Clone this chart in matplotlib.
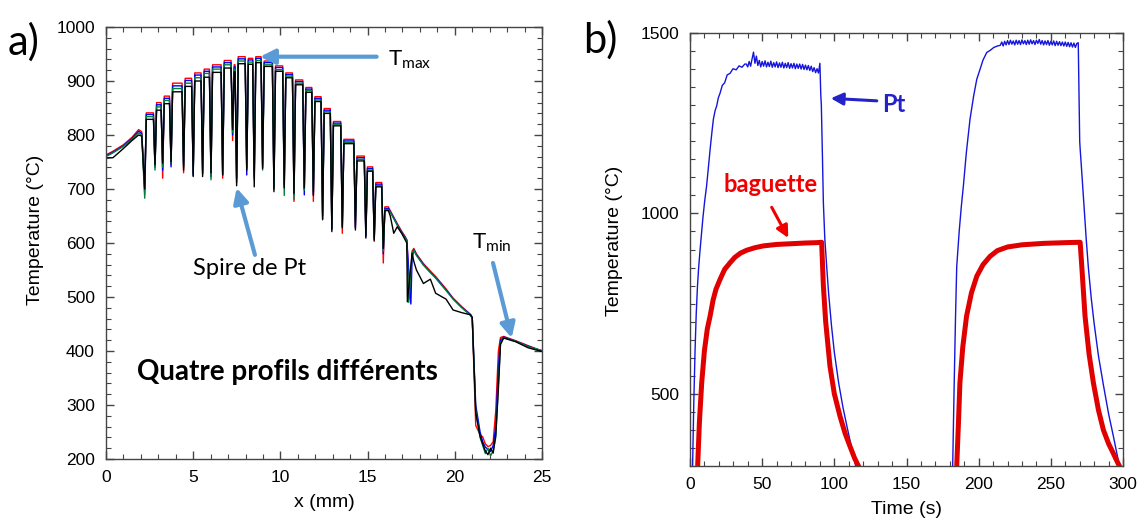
import matplotlib
matplotlib.use('Agg')
import matplotlib.pyplot as plt
import numpy as np
from matplotlib.ticker import MultipleLocator

plt.rcParams['font.family'] = ['Liberation Sans', 'DejaVu Sans']
plt.rcParams['mathtext.fontset'] = 'custom'
plt.rcParams['mathtext.rm'] = 'Lato'

# ---------------- a) four temperature profiles along the rod ----------------
lead_x = [0.0, 0.4, 1.0, 1.5, 1.87, 2.05]
lead_red = [763, 770, 782, 796, 810, 806]
lead_blue = [762, 768, 780, 794, 807, 803]
lead_green = [760, 767, 779, 792, 804, 800]
lead_black = [757, 758, 775, 790, 800, 798]

# positions of the Pt coil turns (dips) and the level reached after each one
dip_x = [2.22, 2.81, 3.25, 3.73, 4.45, 5.00, 5.54, 6.02, 6.69, 7.26, 7.49, 8.07, 8.50,
         8.98, 9.63, 10.22, 10.78, 11.37, 11.89, 12.42, 12.95, 13.55, 14.30, 14.90, 15.38, 15.90]
top_red = [841, 860, 872, 896, 905, 915, 922, 930, 938, 930, 945, 942, 945,
           937, 928, 915, 902, 888, 871, 849, 825, 792, 761, 741, 712, 667]
top_blue = [838, 856, 868, 891, 901, 911, 918, 926, 934, 926, 941, 939, 942,
            934, 925, 912, 899, 885, 868, 846, 822, 789, 758, 738, 709, 664]
top_green = [834, 852, 864, 886, 896, 906, 914, 922, 930, 922, 937, 935, 938,
             930, 921, 909, 896, 882, 865, 843, 819, 786, 755, 735, 706, 662]
top_black = [829, 846, 858, 880, 890, 900, 907, 916, 924, 917, 932, 931, 934,
             927, 918, 906, 893, 879, 862, 840, 817, 784, 752, 733, 704, 660]
dip_red = [690, 742, 720, 745, 730, 728, 730, 725, 720, 790, 720, 740, 722,
           740, 700, 705, 677, 700, 677, 650, 628, 618, 630, 615, 603, 563]
dip_blue = [700, 740, 735, 741, 744, 725, 728, 722, 725, 800, 712, 726, 725,
            745, 705, 708, 690, 689, 690, 645, 625, 630, 628, 612, 610, 580]
dip_green = [683, 735, 740, 748, 740, 730, 735, 717, 728, 805, 718, 738, 718,
             735, 700, 688, 681, 698, 695, 655, 630, 635, 640, 620, 608, 585]
dip_black = [700, 745, 748, 750, 735, 723, 723, 730, 727, 810, 706, 735, 704,
             738, 695, 702, 692, 702, 688, 643, 621, 628, 624, 609, 605, 590]

tailA_x = [16.19, 16.3, 16.5, 16.7, 16.95, 17.15, 17.25]
tailA_red = [667, 660, 648, 636, 622, 612, 606]
tailA_blue = [664, 658, 646, 634, 620, 611, 605]
tailA_green = [662, 657, 645, 633, 619, 610, 604]
tailA_black = [660, 650, 618, 630, 618, 606, 600]

# last deep dip (red, blue, green, black)
big_x = [17.42, 17.48, 17.36, 17.28]
big_T = [497, 487, 490, 491]

tailB_x = [17.55, 17.65, 17.8, 18.2, 18.6, 18.9, 19.5, 19.9, 20.4, 20.9, 21.0, 21.2, 21.45,
           21.6, 21.75, 21.9, 22.05, 22.2, 22.35, 22.5, 22.62, 22.8, 23.5, 24.2, 25.0]
tailB_red = [585, 590, 580, 562, 548, 538, 515, 498, 482, 468, 462, 262, 245,
             241, 228, 223, 225, 232, 290, 400, 425, 427, 419, 410, 400]
tailB_blue = [570, 588, 578, 560, 546, 536, 513, 497, 481, 467, 462, 300, 250,
              232, 222, 218, 214, 225, 260, 370, 420, 426, 418, 409, 400]
tailB_green = [580, 587, 577, 559, 545, 535, 512, 496, 480, 466, 460, 290, 240,
               225, 210, 220, 206, 215, 240, 340, 415, 425, 418, 408, 401]
tailB_black = [581, 566, 550, 525, 533, 507, 496, 476, 471, 467, 462, 285, 242,
               228, 215, 208, 220, 211, 245, 330, 412, 424, 417, 406, 399]

# ---------------- b) Pt wire and rod temperatures vs time ----------------
pt1_rise_t = [1.8, 2.6, 3.5, 4.3, 5.2, 6.0, 7.0, 8.0, 9.0, 10.2, 11.5, 12.8, 14.0, 15.1,
              16.2, 17.4, 18.5, 19.6, 20.8, 22.4, 24.0, 25.8, 27.7, 29.8, 32.0, 34.0, 36.0, 38.0]
pt1_rise_T = [300, 470, 620, 720, 800, 850, 900, 945, 990, 1035, 1076, 1130, 1180, 1222,
              1261, 1285, 1298, 1320, 1333, 1355, 1362, 1384, 1388, 1401, 1398, 1409, 1405, 1414]
pt1_flat_t = np.arange(39, 91)
pt1_flat_T = [1414, 1406, 1421, 1408, 1428, 1447, 1416, 1436, 1410, 1424, 1406, 1421, 1408,
              1423, 1406, 1419, 1407, 1422, 1405, 1418, 1406, 1420, 1404, 1417, 1405, 1419,
              1403, 1416, 1404, 1418, 1402, 1415, 1403, 1416, 1401, 1414, 1402, 1414, 1400,
              1413, 1399, 1411, 1398, 1410, 1396, 1408, 1393, 1404, 1390, 1401, 1389, 1416]
pt1_fall_t = [90.6, 91.0, 91.8, 92.4, 93.4, 94.7, 96.0, 98.0, 100.0, 103.0, 106.0, 109.0,
              112.0, 114.5, 115.5]
pt1_fall_T = [1330, 1300, 1150, 1030, 930, 853, 780, 690, 615, 530, 462, 405, 350, 305, 290]

pt2_rise_t = [182, 183, 184, 184.8, 186.5, 188, 189.4, 191.5, 194, 196.5, 198.7, 201, 203,
              205.6, 208, 210.5, 213]
pt2_rise_T = [300, 520, 720, 853, 950, 1020, 1076, 1170, 1261, 1325, 1372, 1400, 1425,
              1446, 1452, 1460, 1464]
pt2_flat_t = np.arange(215, 270)
pt2_flat_T = [1466, 1475, 1464, 1477, 1467, 1479, 1468, 1480, 1469, 1478, 1467, 1480, 1469,
              1479, 1468, 1481, 1470, 1479, 1468, 1480, 1469, 1481, 1470, 1479, 1468, 1480,
              1471, 1482, 1469, 1479, 1467, 1478, 1468, 1479, 1466, 1477, 1467, 1478, 1465,
              1477, 1466, 1476, 1465, 1475, 1464, 1475, 1463, 1474, 1462, 1473, 1461, 1472,
              1460, 1471, 1473]
pt2_fall_t = [270.0, 270.3, 271.5, 273.0, 274.5, 276, 278, 280, 283, 286.4, 290, 293.3,
              296, 297.5, 298.5]
pt2_fall_T = [1200, 1180, 1110, 1020, 930, 850, 765, 695, 605, 525, 445, 383, 330, 300, 285]

bg1_t = [5.3, 6.5, 8.1, 10, 12, 13.9, 16, 18, 20.8, 24, 27.7, 31, 35, 39.3, 45, 50.8, 60,
         70, 80, 88, 91.2, 92.4, 94, 97, 100, 104, 107.5, 110.9, 114, 116.7, 118]
bg1_T = [300, 420, 530, 620, 680, 715, 760, 790, 817, 845, 863, 878, 890, 898, 905, 910,
         914, 916, 918, 919, 920, 800, 700, 576, 500, 437, 390, 354, 322, 300, 290]
bg2_t = [184.8, 186, 187, 189, 191.6, 195, 198.7, 203, 207.9, 213, 220, 230, 245, 260,
         270.3, 271.5, 273.7, 276.5, 279.5, 283, 286.4, 290, 293.3, 296, 297.5, 298.5]
bg2_T = [300, 420, 530, 630, 715, 780, 826, 858, 881, 897, 907, 913, 917, 919, 920, 850,
         715, 610, 530, 455, 400, 362, 335, 312, 300, 292]

HW = 0.09  # half width of a dip on screen


def profile(lead_T, tops, dips, tailA_T, bx, bT, tailB_T):
    xs = list(lead_x)
    ys = list(lead_T)
    for i in range(len(dip_x)):
        if i > 0:
            xs.append(dip_x[i] - HW)
            ys.append(tops[i - 1])
        xs.append(dip_x[i])
        ys.append(dips[i])
        xs.append(dip_x[i] + HW)
        ys.append(tops[i])
    xs += tailA_x + [bx] + tailB_x
    ys += tailA_T + [bT] + tailB_T
    return xs, ys


fig = plt.figure(figsize=(11.46, 5.23), dpi=100)
ax1 = fig.add_axes([106 / 1146, 1 - 459 / 523, 436 / 1146, 432 / 523])
ax2 = fig.add_axes([690 / 1146, 1 - 466 / 523, 433 / 1146, 433 / 523])

sets = [
    ('#ff0000', lead_red, top_red, dip_red, tailA_red, tailB_red),
    ('#0000ff', lead_blue, top_blue, dip_blue, tailA_blue, tailB_blue),
    ('#00803a', lead_green, top_green, dip_green, tailA_green, tailB_green),
    ('#000000', lead_black, top_black, dip_black, tailA_black, tailB_black),
]
for k, (c, le, tp, dp, ta, tb) in enumerate(sets):
    xs, ys = profile(le, tp, dp, ta, big_x[k], big_T[k], tb)
    ax1.plot(xs, ys, color=c, lw=1.0)

ax2.plot(list(pt1_rise_t) + list(pt1_flat_t) + pt1_fall_t,
         pt1_rise_T + pt1_flat_T + pt1_fall_T, color='#1515dc', lw=1.0)
ax2.plot(list(pt2_rise_t) + list(pt2_flat_t) + pt2_fall_t,
         pt2_rise_T + pt2_flat_T + pt2_fall_T, color='#1515dc', lw=1.0)
ax2.plot(bg1_t, bg1_T, color='#e00000', lw=3.6, solid_capstyle='butt')
ax2.plot(bg2_t, bg2_T, color='#e00000', lw=3.6, solid_capstyle='butt')

ax1.set_xlim(0, 25)
ax1.set_ylim(200, 1000)
ax1.xaxis.set_major_locator(MultipleLocator(5))
ax1.xaxis.set_minor_locator(MultipleLocator(1))
ax1.yaxis.set_major_locator(MultipleLocator(100))
ax1.yaxis.set_minor_locator(MultipleLocator(20))

ax2.set_xlim(0, 300)
ax2.set_ylim(300, 1500)
ax2.xaxis.set_major_locator(MultipleLocator(50))
ax2.xaxis.set_minor_locator(MultipleLocator(10))
ax2.yaxis.set_major_locator(MultipleLocator(500))
ax2.yaxis.set_minor_locator(MultipleLocator(50))

for ax in (ax1, ax2):
    for s in ax.spines.values():
        s.set_color('#444444')
        s.set_linewidth(1.0)
    ax.tick_params(which='both', direction='in', top=True, right=True, color='#444444',
                   labelsize=12.5, pad=8)
    ax.tick_params(which='major', length=6, width=1)
    ax.tick_params(which='minor', length=3.5, width=0.8)

ax1.set_xlabel('x (mm)', fontsize=14)
ax1.set_ylabel('Temperature (°C)', fontsize=14)
ax1.xaxis.set_label_coords(0.5, -0.08)
ax1.yaxis.set_label_coords(-0.142, 0.53)
ax2.set_xlabel('Time (s)', fontsize=14)
ax2.set_ylabel('Temperature (°C)', fontsize=14)
ax2.xaxis.set_label_coords(0.5, -0.08)
ax2.yaxis.set_label_coords(-0.155, 0.52)

fig.text(8 / 1146, 1 - 42 / 523, 'a)', fontsize=30, family=['Lato'], va='center')
fig.text(583 / 1146, 1 - 40 / 523, 'b)', fontsize=30, family=['Lato'], va='center')

lb = '#5b9bd5'
arr = dict(arrowstyle='-|>', color=lb, lw=3, mutation_scale=22, shrinkA=0, shrinkB=0)
ax1.annotate('', xy=(8.83, 945), xytext=(15.52, 945), arrowprops=arr)
ax1.text(16.17, 940, r'T$_{\mathrm{max}}$', fontsize=16, family=['Lato'], va='center')
ax1.annotate('', xy=(7.49, 702), xytext=(8.54, 578), arrowprops=arr)
ax1.text(8.26, 552, 'Spire de Pt', fontsize=17, family=['Lato'], ha='center', va='center')
ax1.annotate('', xy=(23.26, 424), xytext=(22.19, 563), arrowprops=arr)
ax1.text(20.97, 600, r'T$_{\mathrm{min}}$', fontsize=16, family=['Lato'], va='center')
ax1.text(10.38, 361, 'Quatre profils différents', fontsize=20, family=['Lato'],
         weight='bold', ha='center', va='center')

ax2.annotate('', xy=(97.5, 1319), xytext=(129.4, 1312),
             arrowprops=dict(arrowstyle='-|>', color='#2323c8', lw=2.2, mutation_scale=18,
                             shrinkA=0, shrinkB=0))
ax2.text(132.8, 1303, 'Pt', fontsize=17, family=['Lato'], weight='bold', color='#2323c8',
         va='center')
ax2.annotate('', xy=(68.1, 932), xytext=(56.6, 1017),
             arrowprops=dict(arrowstyle='-|>', color='#f00000', lw=2.2, mutation_scale=18,
                             shrinkA=0, shrinkB=0))
ax2.text(55.9, 1079, 'baguette', fontsize=17, family=['Lato'], weight='bold',
         color='#f00000', ha='center', va='center')

fig.savefig('out.png', dpi=100)
